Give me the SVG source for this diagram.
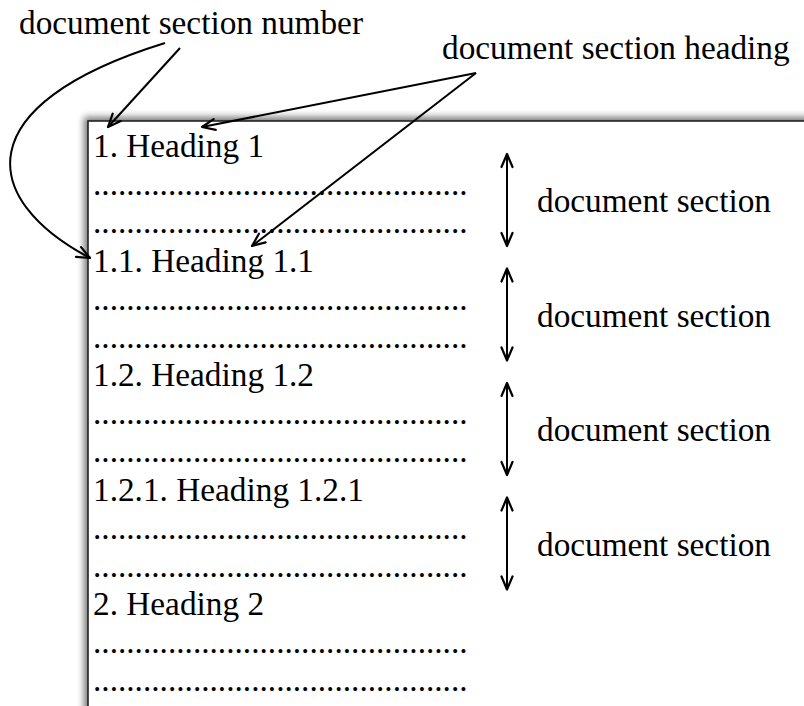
<svg xmlns="http://www.w3.org/2000/svg" width="804" height="706" viewBox="0 0 804 706">
  <defs>
    <style>
      .t { font-family: 'Liberation Serif', 'Times New Roman', serif; font-size: 33.3px; fill: #000; }
      .conn { fill: none; stroke: #000; stroke-width: 2; }
      .page { fill: #fff; stroke: #222; stroke-width: 1.6; }
    </style>
    <marker id="arrow" viewBox="-15 -8 17 16" markerWidth="17" markerHeight="16" refX="0" refY="0" orient="auto-start-reverse" markerUnits="userSpaceOnUse">
      <path d="M -13 -5.5 L 0 0 L -13 5.5" fill="none" stroke="#000" stroke-width="2.2" stroke-linejoin="round" stroke-linecap="round"/>
    </marker>
    <filter id="shadow" x="-0.1" y="-0.1" width="1.2" height="1.2">
      <feGaussianBlur stdDeviation="3.5"/>
    </filter>
  </defs>

  <!-- page sheet with soft shadow on its top and left edges -->
  <g id="page">
    <rect x="84" y="117" width="760" height="640" fill="#777" filter="url(#shadow)"/>
    <rect class="page" x="88" y="121" width="760" height="640"/>
  </g>

  <!-- document contents -->
  <g class="t">
    <g id="section-1">
      <text x="93" y="157">1. Heading 1</text>
      <text x="93" y="195.2">.............................................</text>
      <text x="93" y="233.4">.............................................</text>
    </g>
    <g id="section-1-1">
      <text x="93" y="271.5">1.1. Heading 1.1</text>
      <text x="93" y="309.7">.............................................</text>
      <text x="93" y="347.9">.............................................</text>
    </g>
    <g id="section-1-2">
      <text x="93" y="386">1.2. Heading 1.2</text>
      <text x="93" y="424.2">.............................................</text>
      <text x="93" y="462.4">.............................................</text>
    </g>
    <g id="section-1-2-1">
      <text x="93" y="500.5">1.2.1. Heading 1.2.1</text>
      <text x="93" y="538.7">.............................................</text>
      <text x="93" y="576.9">.............................................</text>
    </g>
    <g id="section-2">
      <text x="93" y="615">2. Heading 2</text>
      <text x="93" y="653.2">.............................................</text>
      <text x="93" y="691.4">.............................................</text>
    </g>

    <!-- annotation labels -->
    <g id="label-number">
      <text x="19" y="34">document section number</text>
    </g>
    <g id="label-heading">
      <text x="442" y="59">document section heading</text>
    </g>
    <g id="label-section-1"><text x="537" y="212">document section</text></g>
    <g id="label-section-2"><text x="537" y="326.5">document section</text></g>
    <g id="label-section-3"><text x="537" y="441">document section</text></g>
    <g id="label-section-4"><text x="537" y="555.5">document section</text></g>
  </g>

  <!-- connectors -->
  <g id="connectors">
    <path class="conn" d="M 180 48 L 108 127" marker-end="url(#arrow)"/>
    <path class="conn" d="M 165 43 C -35 105 -20 200 90 258" marker-end="url(#arrow)"/>
    <path class="conn" d="M 476 73 L 202 127" marker-end="url(#arrow)"/>
    <path class="conn" d="M 476 73 L 252 246" marker-end="url(#arrow)"/>
    <path class="conn" d="M 507 154 L 507 246" marker-start="url(#arrow)" marker-end="url(#arrow)"/>
    <path class="conn" d="M 507 268.5 L 507 360.5" marker-start="url(#arrow)" marker-end="url(#arrow)"/>
    <path class="conn" d="M 507 383 L 507 475" marker-start="url(#arrow)" marker-end="url(#arrow)"/>
    <path class="conn" d="M 507 497.5 L 507 589.5" marker-start="url(#arrow)" marker-end="url(#arrow)"/>
  </g>
</svg>
